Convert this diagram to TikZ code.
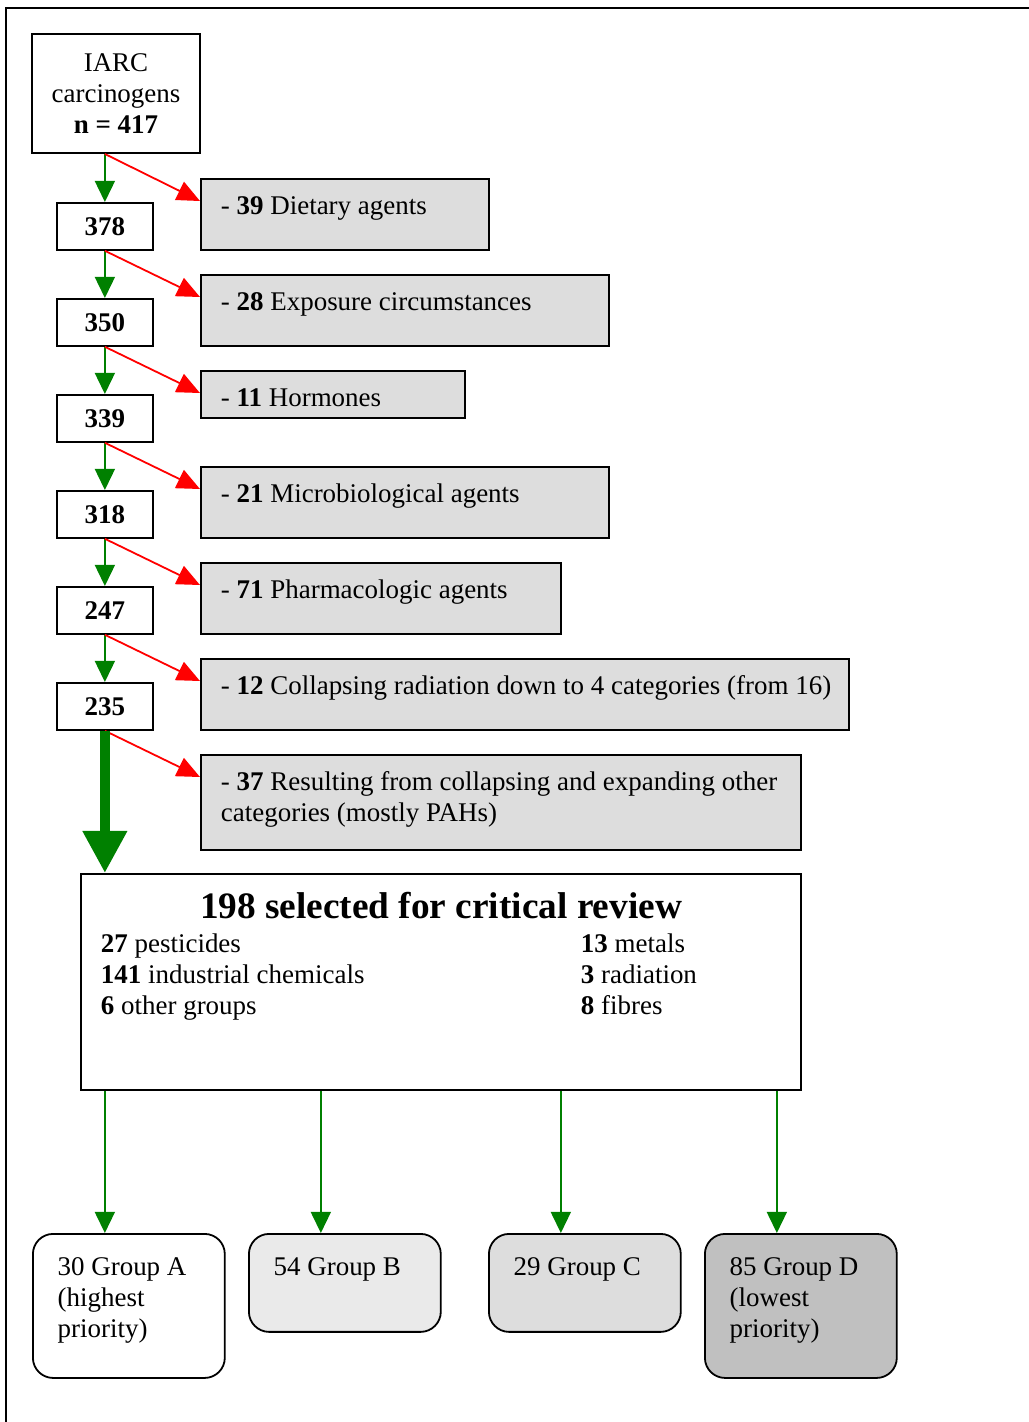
\documentclass[tikz,border=0pt]{standalone}
\usepackage{fontspec}
\setmainfont{Liberation Serif}
\usetikzlibrary{arrows.meta,calc}
\definecolor{keepgreen}{RGB}{0,128,0}
\definecolor{cutgray}{RGB}{221,221,221}
\definecolor{grpBgray}{RGB}{234,234,234}
\definecolor{grpCgray}{RGB}{221,221,221}
\definecolor{grpDgray}{RGB}{192,192,192}
\tikzstyle{every node}=[font=\fontsize{12}{13.8}\selectfont]
\tikzstyle{countbox}=[draw=black,line width=0.8pt,fill=white,anchor=north west,minimum width=42.7pt,minimum height=20.9pt,inner sep=0pt,font=\fontsize{12}{13.8}\selectfont\bfseries]
\tikzstyle{cutbox}=[draw=black,line width=0.8pt,fill=cutgray,anchor=north west,align=flush left,inner xsep=8.9pt,inner ysep=0pt,text height=16pt,text depth=15.6pt]
\tikzstyle{groupbox}=[draw=black,line width=0.8pt,rounded corners=9pt,anchor=north west,align=flush left,inner xsep=11pt,inner ysep=0pt,text width=63.4pt,text height=18.7pt]
\tikzstyle{keep}=[-{Triangle[width=8.9pt,length=9.4pt]},line width=0.8pt,keepgreen]
\tikzstyle{drop}=[-{Triangle[width=8.9pt,length=10.2pt]},line width=0.8pt,red]

\begin{document}
\begin{tikzpicture}[x=0.445pt,y=-0.445pt]
  \useasboundingbox (0,0) rectangle (1029,1422);
  \draw[line width=0.9pt] (6,1422) -- (6,8) -- (1029,8);

  \node[draw=black,line width=0.8pt,align=center,minimum width=74.8pt,minimum height=53pt,inner sep=0pt] (iarc) at (116,93.5)
    {IARC\\carcinogens\\\textbf{n = 417}};

  \node[countbox] (n378) at (56,202) {378};
  \node[countbox] (n350) at (56,298) {350};
  \node[countbox] (n339) at (56,394) {339};
  \node[countbox] (n318) at (56,490) {318};
  \node[countbox] (n247) at (56,586) {247};
  \node[countbox] (n235) at (56,682) {235};

  \node[cutbox,text width=110.4pt] (diet) at (200,178) {- \textbf{39} Dietary agents};
  \node[cutbox,text width=163.8pt] (expo) at (200,274) {- \textbf{28} Exposure circumstances};
  \node[cutbox,text width=99.7pt,text depth=4.9pt] (horm) at (200,370) {- \textbf{11} Hormones};
  \node[cutbox,text width=163.8pt] (micro) at (200,466) {- \textbf{21} Microbiological agents};
  \node[cutbox,text width=142.4pt] (pharm) at (200,562) {- \textbf{71} Pharmacologic agents};
  \node[cutbox,text width=270.6pt] (radia) at (200,658)
    {\mbox{- \textbf{12} Collapsing radiation down to 4 categories (from 16)}};
  \node[cutbox,text width=249.2pt,text depth=26.3pt] (other) at (200,754)
    {\mbox{- \textbf{37} Resulting from collapsing and expanding other}\\categories (mostly PAHs)};

  \node[draw=black,line width=0.8pt,anchor=north west,inner xsep=8.9pt,inner ysep=0pt,text height=20pt,text depth=76.1pt] (rev) at (80,873)
    {\begin{tabular}[t]{@{}p{213.6pt}@{}p{89.1pt}@{}}
      \multicolumn{2}{@{}c@{}}{\fontsize{16.6}{19}\selectfont\bfseries 198 selected for critical review}\\[1.3pt]
      \textbf{27} pesticides & \textbf{13} metals\\
      \textbf{141} industrial chemicals & \textbf{3} radiation\\
      \textbf{6} other groups & \textbf{8} fibres
    \end{tabular}};

  \node[groupbox,fill=white,text depth=45.4pt] (grpA) at (32,1233) {30 Group A\\(highest\\priority)};
  \node[groupbox,fill=grpBgray,text depth=24.9pt] (grpB) at (248,1233) {54 Group B};
  \node[groupbox,fill=grpCgray,text depth=24.9pt] (grpC) at (488,1233) {29 Group C};
  \node[groupbox,fill=grpDgray,text depth=45.4pt] (grpD) at (704,1233) {85 Group D\\(lowest\\priority)};

  \draw[keep] (n378.north |- iarc.south) -- (n378.north);
  \draw[drop] (n378.north |- iarc.south) -- ($(diet.north west)+(0,23)$);
  \draw[keep] (n378.south) -- (n350.north);
  \draw[drop] (n378.south) -- ($(expo.north west)+(0,23)$);
  \draw[keep] (n350.south) -- (n339.north);
  \draw[drop] (n350.south) -- ($(horm.north west)+(0,23)$);
  \draw[keep] (n339.south) -- (n318.north);
  \draw[drop] (n339.south) -- ($(micro.north west)+(0,23)$);
  \draw[keep] (n318.south) -- (n247.north);
  \draw[drop] (n318.south) -- ($(pharm.north west)+(0,23)$);
  \draw[keep] (n247.south) -- (n235.north);
  \draw[drop] (n247.south) -- ($(radia.north west)+(0,23)$);
  \draw[drop] (n235.south) -- ($(other.north west)+(0,23)$);
  \draw[-{Triangle[width=18.7pt,length=18.7pt]},line width=4.5pt,keepgreen] (n235.south) -- (rev.north -| n235.south);

  \coordinate (ta) at ($(grpA.north)+(-24,0)$);
  \coordinate (tb) at ($(grpB.north)+(-24,0)$);
  \coordinate (tc) at ($(grpC.north)+(-24,0)$);
  \coordinate (td) at ($(grpD.north)+(-24,0)$);
  \draw[keep] (ta |- rev.south) -- (ta);
  \draw[keep] (tb |- rev.south) -- (tb);
  \draw[keep] (tc |- rev.south) -- (tc);
  \draw[keep] (td |- rev.south) -- (td);
\end{tikzpicture}
\end{document}
